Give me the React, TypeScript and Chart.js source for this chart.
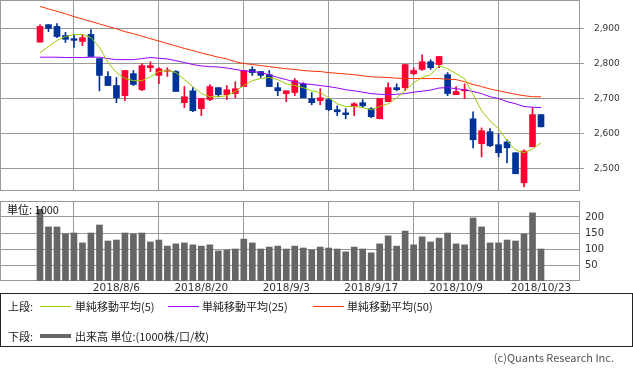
import React, { useEffect, useRef } from "react";
import { Chart, registerables } from "chart.js";

Chart.register(...registerables);

const dates = [
  "2018/7/24","2018/7/25","2018/7/26","2018/7/27","2018/7/30","2018/7/31",
  "2018/8/1","2018/8/2","2018/8/3","2018/8/6","2018/8/7","2018/8/8","2018/8/9","2018/8/10",
  "2018/8/13","2018/8/14","2018/8/15","2018/8/16","2018/8/17","2018/8/20","2018/8/21","2018/8/22",
  "2018/8/23","2018/8/24","2018/8/27","2018/8/28","2018/8/29","2018/8/30","2018/8/31","2018/9/3",
  "2018/9/4","2018/9/5","2018/9/6","2018/9/7","2018/9/10","2018/9/11","2018/9/12","2018/9/13",
  "2018/9/14","2018/9/17","2018/9/18","2018/9/19","2018/9/20","2018/9/21","2018/9/25","2018/9/26",
  "2018/9/27","2018/9/28","2018/10/1","2018/10/9","2018/10/10","2018/10/11","2018/10/12","2018/10/15",
  "2018/10/16","2018/10/17","2018/10/18","2018/10/19","2018/10/22","2018/10/23",
];
const tickDates = ["2018/8/6", "2018/8/20", "2018/9/3", "2018/9/17", "2018/10/9", "2018/10/23"];

const opens = [
  2861,2911,2906,2880,2871,2863,2883,2814,2763,2737,
  2708,2771,2725,2788,2766,2778,2777,2688,2722,2671,
  2697,2731,2711,2714,2734,2783,2777,2768,2731,2714,
  2717,2742,2700,2694,2697,2668,2659,2677,2688,2671,
  2642,2691,2731,2731,2771,2783,2805,2797,2768,2711,
  2722,2642,2571,2605,2568,2576,2545,2459,2562,2654,
];
const highs = [
  2911,2911,2914,2889,2883,2883,2897,2814,2777,2760,
  2780,2780,2800,2805,2788,2788,2780,2734,2731,2700,
  2740,2731,2737,2748,2780,2791,2777,2780,2745,2722,
  2757,2745,2717,2728,2700,2679,2671,2688,2697,2674,
  2700,2745,2742,2797,2788,2825,2811,2820,2774,2734,
  2742,2662,2616,2614,2599,2582,2545,2553,2674,2654,
];
const lows = [
  2861,2891,2874,2860,2846,2851,2820,2722,2737,2688,
  2694,2737,2722,2777,2742,2763,2720,2674,2662,2651,
  2694,2705,2697,2702,2734,2766,2760,2734,2708,2691,
  2708,2702,2682,2682,2665,2651,2642,2651,2674,2645,
  2642,2691,2722,2722,2768,2780,2783,2788,2708,2711,
  2700,2559,2533,2562,2533,2516,2485,2447,2562,2619,
];
const closes = [
  2906,2900,2877,2869,2866,2874,2820,2766,2737,2702,
  2780,2740,2794,2794,2785,2781,2720,2705,2665,2700,
  2734,2711,2725,2728,2780,2774,2766,2734,2722,2722,
  2751,2702,2688,2702,2668,2662,2654,2685,2679,2648,
  2700,2731,2725,2797,2780,2805,2788,2820,2714,2720,
  2725,2582,2608,2565,2545,2559,2485,2550,2654,2619,
];
const ma5 = [
  2831,2848,2866,2877,2883,2883,2874,2846,2803,2774,
  2757,2751,2751,2762,2777,2780,2774,2754,2734,2714,
  2705,2705,2708,2720,2737,2751,2757,2760,2754,2742,
  2737,2731,2722,2717,2702,2685,2677,2677,2674,2668,
  2677,2685,2702,2722,2745,2760,2768,2794,2785,2771,
  2757,2711,2665,2636,2614,2579,2553,2545,2556,2573,
];
const ma25 = [
  2818,2818,2818,2817,2817,2817,2818,2818,2814,2811,
  2811,2811,2814,2817,2815,2813,2808,2803,2797,2793,
  2791,2790,2787,2783,2779,2777,2774,2768,2760,2754,
  2747,2742,2740,2737,2734,2730,2725,2722,2718,2714,
  2712,2711,2712,2714,2718,2721,2724,2730,2731,2728,
  2725,2720,2714,2705,2700,2691,2685,2677,2675,2674,
];
const ma50 = [
  2963,2956,2949,2942,2934,2927,2920,2913,2906,2899,
  2891,2885,2878,2871,2864,2857,2850,2843,2837,2830,
  2824,2818,2813,2805,2800,2797,2794,2791,2788,2785,
  2783,2780,2778,2777,2774,2772,2770,2768,2765,2762,
  2761,2760,2758,2757,2757,2757,2757,2757,2755,2754,
  2748,2740,2734,2727,2722,2717,2712,2708,2705,2705,
];
const volumes = [
  224,169,169,147,150,119,150,175,125,128,
  150,147,150,122,128,109,116,119,113,109,
  113,94,97,100,131,119,100,106,109,100,
  109,103,97,106,103,100,91,106,100,88,
  116,141,109,156,113,138,122,134,150,116,
  113,197,169,119,119,128,125,147,213,100,
];
const priceTicks = [2500, 2600, 2700, 2800, 2900];
const volumeTicks = [50, 100, 150, 200];

const UP = "#ff0033";
const DOWN = "#003399";
const GRID = "#999999";
const X_MIN = -4.711;
const X_MAX = 63.592;

const tickIndex = tickDates.map((d) => dates.indexOf(d));
const candleColors = opens.map((o, i) => (closes[i] >= o ? UP : DOWN));

const framePlugin = {
  id: "frame",
  beforeDatasetsDraw(chart: any) {
    const { ctx, chartArea } = chart;
    const { left, top, right, bottom } = chartArea;
    ctx.save();
    ctx.strokeStyle = GRID;
    ctx.lineWidth = 1;
    ctx.strokeRect(left + 0.5, top + 0.5, right - left - 1, bottom - top - 1);
    ctx.restore();
  },
};

const zeroPad = (s: any) => {
  s.paddingTop = 0;
  s.paddingBottom = 0;
  s.paddingLeft = 0;
  s.paddingRight = 0;
};

export default function App() {
  const priceRef = useRef<HTMLCanvasElement | null>(null);
  const volRef = useRef<HTMLCanvasElement | null>(null);

  useEffect(() => {
    const xScale = (showLabels: boolean, height: number) => ({
      type: "linear" as const,
      min: X_MIN,
      max: X_MAX,
      offset: false,
      grid: { color: GRID, drawTicks: false },
      border: { display: false },
      ticks: {
        display: showLabels,
        autoSkip: false,
        maxRotation: 0,
        padding: 1,
        color: "#333",
        font: { family: "DejaVu Sans", size: 10.5 },
        callback: (v: any) => dates[Math.round(Number(v))] ?? "",
      },
      afterBuildTicks: (s: any) => {
        s.ticks = tickIndex.map((v) => ({ value: v }));
      },
      afterFit: (s: any) => {
        s.height = height;
        zeroPad(s);
      },
    });

    const price = new Chart(priceRef.current as HTMLCanvasElement, {
      type: "bar",
      data: {
        datasets: [
          {
            type: "line",
            label: "MA5",
            data: ma5.map((v, i) => ({ x: i, y: v })),
            borderColor: "#99cc00",
            borderWidth: 1,
            pointRadius: 0,
            order: 0,
          },
          {
            type: "line",
            label: "MA25",
            data: ma25.map((v, i) => ({ x: i, y: v })),
            borderColor: "#9900ff",
            borderWidth: 1,
            pointRadius: 0,
            order: 0,
          },
          {
            type: "line",
            label: "MA50",
            data: ma50.map((v, i) => ({ x: i, y: v })),
            borderColor: "#ff3300",
            borderWidth: 1,
            pointRadius: 0,
            order: 0,
          },
          {
            type: "bar",
            label: "body",
            data: opens.map((o, i) => ({ x: i, y: [o, closes[i]] })) as any,
            backgroundColor: candleColors,
            borderWidth: 0,
            barThickness: 6,
            grouped: false,
            order: 1,
          },
          {
            type: "bar",
            label: "wick",
            data: lows.map((l, i) => ({ x: i, y: [l, highs[i]] })) as any,
            backgroundColor: candleColors,
            borderWidth: 0,
            barThickness: 1,
            grouped: false,
            order: 2,
          },
        ] as any,
      },
      options: {
        animation: false,
        responsive: false,
        maintainAspectRatio: false,
        layout: { padding: { left: 0, top: 0, right: 0, bottom: 9 } },
        plugins: { legend: { display: false }, tooltip: { enabled: false } },
        scales: {
          x: xScale(false, 0) as any,
          y: {
            position: "right",
            min: 2435.7,
            max: 2981.4,
            grid: { color: GRID, tickLength: 4 },
            border: { display: false },
            ticks: {
              padding: 10,
              color: "#333",
              font: { family: "DejaVu Sans", size: 9 },
              callback: (v: any) => Number(v).toLocaleString("en-US"),
            },
            afterBuildTicks: (s: any) => {
              s.ticks = priceTicks.map((v) => ({ value: v }));
            },
            afterFit: (s: any) => {
              s.width = 53;
              zeroPad(s);
            },
          } as any,
        },
      },
      plugins: [framePlugin],
    });

    const vol = new Chart(volRef.current as HTMLCanvasElement, {
      type: "bar",
      data: {
        datasets: [
          {
            label: "出来高",
            data: volumes.map((v, i) => ({ x: i, y: v })) as any,
            backgroundColor: "#666666",
            borderWidth: 0,
            barThickness: 6,
            grouped: false,
          },
        ],
      },
      options: {
        animation: false,
        responsive: false,
        maintainAspectRatio: false,
        layout: { padding: { left: 0, top: 5, right: 0, bottom: 0 } },
        plugins: { legend: { display: false }, tooltip: { enabled: false } },
        scales: {
          x: xScale(true, 15) as any,
          y: {
            position: "right",
            min: 0,
            max: 250,
            grid: { color: GRID, drawTicks: false },
            border: { display: false },
            ticks: {
              padding: 5,
              color: "#333",
              font: { family: "DejaVu Sans", size: 10 },
            },
            afterBuildTicks: (s: any) => {
              s.ticks = volumeTicks.map((v) => ({ value: v }));
            },
            afterFit: (s: any) => {
              s.width = 53;
              zeroPad(s);
            },
          } as any,
        },
      },
      plugins: [framePlugin],
    });

    return () => {
      price.destroy();
      vol.destroy();
    };
  }, []);

  const txt: React.CSSProperties = {
    position: "absolute",
    fontFamily: "'Noto Sans CJK JP', 'Noto Sans', sans-serif",
    fontSize: 11,
    lineHeight: "14px",
    color: "#222",
    whiteSpace: "nowrap",
  };
  const line = (left: number, top: number, width: number, height: number, color: string): React.CSSProperties => ({
    position: "absolute",
    left,
    top,
    width,
    height,
    background: color,
  });

  return (
    <div style={{ position: "absolute", left: 0, top: 0, width: 633, height: 370, background: "#fff", overflow: "hidden" }}>
      <canvas ref={priceRef} width={633} height={200} style={{ position: "absolute", left: 0, top: 0, width: 633, height: 200 }} />
      <canvas ref={volRef} width={633} height={100} style={{ position: "absolute", left: 0, top: 196, width: 633, height: 100 }} />
      <div style={{ ...txt, left: 7, top: 202, color: "#111" }}>単位: 1000</div>
      <div style={{ position: "absolute", left: 0, top: 293, width: 631, height: 52, border: "1px solid #222" }} />
      <div style={{ ...txt, left: 8, top: 299 }}>上段:</div>
      <div style={line(40, 306, 31, 1, "#99cc00")} />
      <div style={{ ...txt, left: 75, top: 299 }}>単純移動平均(5)</div>
      <div style={line(168, 306, 31, 1, "#9900ff")} />
      <div style={{ ...txt, left: 202, top: 299 }}>単純移動平均(25)</div>
      <div style={line(313, 306, 31, 1, "#ff3300")} />
      <div style={{ ...txt, left: 347, top: 299 }}>単純移動平均(50)</div>
      <div style={{ ...txt, left: 8, top: 329 }}>下段:</div>
      <div style={line(40, 334, 31, 4, "#666666")} />
      <div style={{ ...txt, left: 75, top: 329 }}>出来高 単位:(1000株/口/枚)</div>
      <div style={{ ...txt, right: 19, top: 350, color: "#555" }}>(c)Quants Research Inc.</div>
    </div>
  );
}
